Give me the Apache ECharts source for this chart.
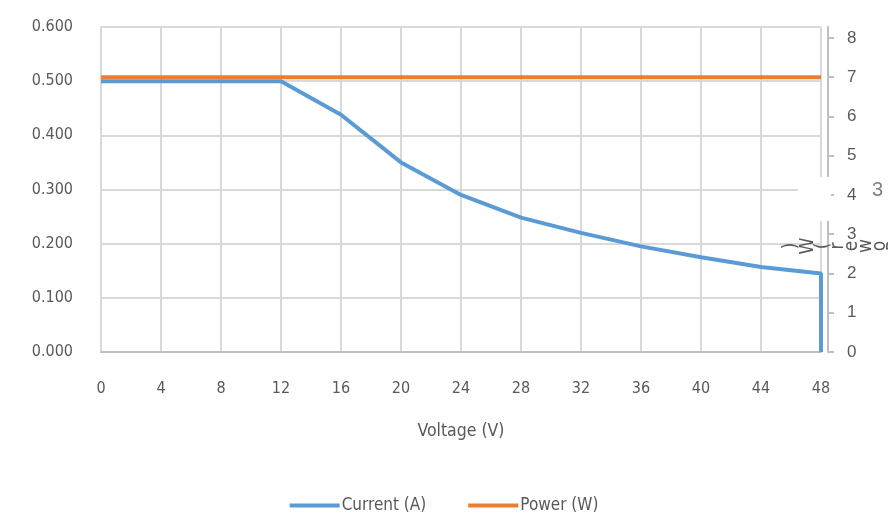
<!DOCTYPE html>
<html>
<head>
<meta charset="utf-8">
<script src="https://cdn.jsdelivr.net/npm/echarts@6/dist/echarts.min.js"></script>
<style>html,body{margin:0;padding:0;background:#fff}#c{width:888px;height:517px}</style>
</head>
<body>
<div id="c"></div>
<script>
const voltage = [0, 4, 8, 12, 16, 20, 24, 28, 32, 36, 40, 44, 48, 48];
const current = [0.5, 0.5, 0.5, 0.5, 0.438, 0.35, 0.29, 0.248, 0.22, 0.195, 0.175, 0.157, 0.145, 0];
const powerV = [0, 48];
const power = [7, 7];
const seriesNames = ['Current (A)', 'Power (W)'];
const xName = 'Voltage (V)';
const rightAxisName = 'Power (W)';

const narrow = "'DejaVu Sans Condensed', 'Liberation Sans Narrow', 'Liberation Sans', sans-serif";
const chart = echarts.init(document.getElementById('c'), null, {renderer: 'canvas'});

// glitched right-axis title: rotated glyphs laid out right-to-left
const glyphX = [895, 880, 866, 852, 838, 830, 823, 808, 791];
const garbled = rightAxisName.split('').map((ch, i) => ({
  type: 'text', x: glyphX[i], y: 246, rotation: Math.PI / 2, z: 5,
  style: {text: ch, fontSize: 19, fontFamily: narrow, fill: '#595959', align: 'center', verticalAlign: 'middle'}
}));

chart.setOption({
  animation: false,
  grid: {left: 101, right: 67, top: 27, bottom: 165},
  legend: {
    top: 492, left: 'center', icon: 'rect', itemWidth: 50, itemHeight: 4, itemGap: 42,
    textStyle: {fontFamily: narrow, fontSize: 17, color: '#595959', padding: [0, 0, 0, -3]},
    data: seriesNames
  },
  xAxis: {
    type: 'value', min: 0, max: 48, interval: 4,
    name: xName, nameLocation: 'middle', nameGap: 70,
    nameTextStyle: {fontFamily: narrow, fontSize: 17.5, color: '#595959'},
    axisLine: {show: true, lineStyle: {color: '#BFBFBF', width: 2}},
    axisTick: {show: false},
    axisLabel: {fontFamily: narrow, fontSize: 16, color: '#595959', margin: 29},
    splitLine: {show: true, lineStyle: {color: '#D9D9D9', width: 2}}
  },
  yAxis: [{
    type: 'value', min: 0, max: 0.6, interval: 0.1,
    axisLine: {show: true, lineStyle: {color: '#D9D9D9', width: 2}},
    axisTick: {show: false},
    axisLabel: {fontFamily: narrow, fontSize: 16, color: '#595959', margin: 28,
      formatter: v => v.toFixed(3)},
    splitLine: {show: true, lineStyle: {color: '#D9D9D9', width: 2}}
  }, {
    type: 'value', min: 0, max: 8.28, interval: 1, position: 'right', offset: 7,
    axisLine: {show: true, lineStyle: {color: '#BFBFBF', width: 2}},
    axisTick: {show: true, length: 6, lineStyle: {color: '#BFBFBF', width: 2}},
    axisLabel: {fontFamily: "'Liberation Sans', sans-serif", fontSize: 17, color: '#595959', margin: 19,
      showMaxLabel: false, formatter: v => (Math.abs(v - Math.round(v)) < 1e-6 ? String(Math.round(v)) : '')},
    splitLine: {show: false}
  }],
  series: [{
    name: seriesNames[0], type: 'line', yAxisIndex: 0, showSymbol: false, symbol: 'none',
    data: voltage.map((v, i) => [v, current[i]]),
    lineStyle: {color: '#5B9BD5', width: 4}, itemStyle: {color: '#5B9BD5'}
  }, {
    name: seriesNames[1], type: 'line', yAxisIndex: 1, showSymbol: false, symbol: 'none',
    data: powerV.map((v, i) => [v, power[i]]),
    lineStyle: {color: '#ED7D31', width: 4}, itemStyle: {color: '#ED7D31'}
  }],
  graphic: [
    {type: 'rect', shape: {x: 798, y: 177, width: 33, height: 44}, style: {fill: '#fff'}, z: 4},
    {type: 'text', x: 872, y: 180, z: 5, style: {text: '3', fontSize: 20, fontFamily: "'Liberation Sans', sans-serif", fill: '#7f7f7f'}}
  ].concat(garbled)
});
</script>
</body>
</html>
